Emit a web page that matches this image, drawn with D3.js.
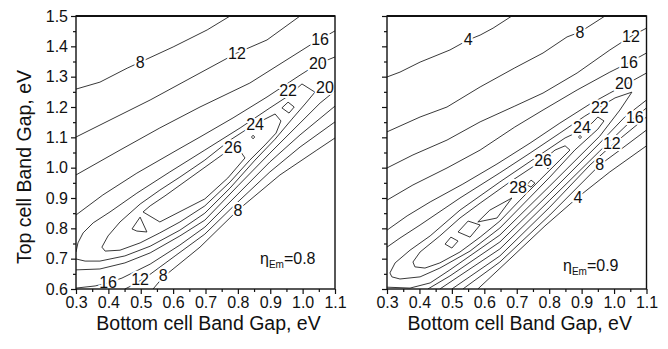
<!DOCTYPE html>
<html>
<head>
<meta charset="utf-8">
<script src="https://cdn.jsdelivr.net/npm/d3@7"></script>
<style>
  body { margin: 0; background: #fff; }
  text { font-family: "Liberation Sans", Arial, sans-serif; fill: #111; }
</style>
</head>
<body>
<svg id="chart" width="668" height="349"></svg>
<script>
// axis ticks
const xTicks = [0.3, 0.4, 0.5, 0.6, 0.7, 0.8, 0.9, 1.0, 1.1];
const xMinor = [0.35, 0.45, 0.55, 0.65, 0.75, 0.85, 0.95, 1.05];
const yTicks = [0.6, 0.7, 0.8, 0.9, 1.0, 1.1, 1.2, 1.3, 1.4, 1.5];
const yMinor = [0.65, 0.75, 0.85, 0.95, 1.05, 1.15, 1.25, 1.35, 1.45];

// left panel (eta_Em = 0.8), contour lines as [bottom gap, top gap]
const left8u = [[0.300,1.259],[0.374,1.282],[0.458,1.328],[0.600,1.398],[0.705,1.454],[0.776,1.500]];
const left12u = [[0.300,1.101],[0.405,1.157],[0.529,1.223],[0.643,1.289],[0.797,1.378],[0.890,1.421],[0.992,1.500]];
const left16u = [[0.300,0.976],[0.436,1.058],[0.559,1.131],[0.683,1.200],[0.837,1.279],[1.023,1.404],[1.100,1.451]];
const left20u = [[0.300,0.844],[0.383,0.910],[0.488,0.982],[0.612,1.058],[0.683,1.101],[0.785,1.164],[0.890,1.233],[0.992,1.305],[1.047,1.342],[1.100,1.365]];
const left22 = [[0.300,0.722],[0.306,0.752],[0.322,0.785],[0.353,0.818],[0.405,0.854],[0.488,0.916],[0.590,0.986],[0.698,1.058],[0.807,1.131],[0.899,1.197],[0.955,1.236],[0.998,1.276],[1.038,1.249],[1.010,1.213],[0.967,1.160],[0.915,1.094],[0.853,1.025],[0.776,0.933],[0.698,0.850],[0.621,0.794],[0.529,0.741],[0.451,0.709],[0.374,0.692],[0.328,0.692],[0.300,0.699]];
const left24 = [[0.380,0.738],[0.399,0.775],[0.436,0.821],[0.498,0.880],[0.559,0.926],[0.621,0.969],[0.698,1.025],[0.776,1.091],[0.828,1.127],[0.878,1.157],[0.915,1.177],[0.933,1.154],[0.918,1.114],[0.884,1.075],[0.837,1.025],[0.776,0.953],[0.698,0.874],[0.621,0.821],[0.559,0.785],[0.498,0.752],[0.436,0.728],[0.390,0.725]];
const left24b = [[0.936,1.197],[0.955,1.216],[0.974,1.200],[0.958,1.180]];
const left26 = [[0.507,0.854],[0.559,0.821],[0.643,0.867],[0.698,0.897],[0.769,0.966],[0.822,1.032],[0.807,1.055],[0.785,1.068],[0.729,1.025],[0.652,0.966],[0.575,0.907],[0.529,0.874]];
const left26b = [[0.498,0.837],[0.473,0.798],[0.488,0.791],[0.519,0.788]];
const left26c = [[0.842,1.101],[0.847,1.107],[0.852,1.101],[0.847,1.095]];
const left20l = [[0.300,0.663],[0.374,0.666],[0.451,0.686],[0.529,0.719],[0.621,0.775],[0.698,0.827],[0.800,0.940],[0.899,1.048],[0.992,1.147],[1.054,1.213],[1.100,1.253]];
const left16l = [[0.300,0.603],[0.359,0.610],[0.399,0.620],[0.442,0.636],[0.529,0.682],[0.621,0.745],[0.698,0.804],[0.800,0.913],[0.899,1.019],[0.992,1.108],[1.100,1.203]];
const left12l = [[0.451,0.600],[0.476,0.613],[0.522,0.643],[0.606,0.709],[0.698,0.781],[0.800,0.887],[0.899,0.986],[0.992,1.068],[1.100,1.151]];
const left8l = [[0.538,0.600],[0.569,0.639],[0.683,0.738],[0.800,0.860],[0.930,0.976],[1.044,1.058],[1.100,1.098]];
// contour labels: [text, x, y]
const leftLabels = [["8",0.498,1.348],["12",0.797,1.378],["16",1.054,1.421],["20",1.047,1.345],["20",1.069,1.263],
  ["22",0.955,1.253],["24",0.853,1.141],["26",0.785,1.068],["8",0.800,0.860],["16",0.399,0.620],["12",0.498,0.630],["8",0.569,0.646]];

// right panel (eta_Em = 0.9)
const right4u = [[0.300,1.299],[0.340,1.315],[0.402,1.348],[0.494,1.388],[0.550,1.421],[0.587,1.437],[0.627,1.460],[0.685,1.500]];
const right8u = [[0.300,1.118],[0.402,1.167],[0.485,1.200],[0.587,1.266],[0.694,1.329],[0.781,1.378],[0.855,1.431],[0.895,1.447],[0.972,1.500]];
const right12u = [[0.300,0.999],[0.380,1.042],[0.485,1.091],[0.587,1.151],[0.694,1.203],[0.781,1.246],[0.886,1.312],[0.987,1.388],[1.049,1.431],[1.100,1.460]];
const right16u = [[0.300,0.893],[0.380,0.943],[0.485,0.999],[0.587,1.058],[0.694,1.134],[0.781,1.190],[0.886,1.256],[0.987,1.315],[1.049,1.348],[1.100,1.378]];
const right20u = [[0.300,0.794],[0.362,0.841],[0.433,0.887],[0.534,0.946],[0.639,1.012],[0.741,1.081],[0.833,1.147],[0.926,1.210],[0.987,1.246],[1.027,1.269],[1.100,1.312]];
const right22 = [[0.300,0.738],[0.340,0.768],[0.402,0.811],[0.525,0.900],[0.648,0.983],[0.741,1.048],[0.833,1.114],[0.910,1.170],[0.956,1.200],[1.003,1.230],[1.055,1.249],[1.018,1.190],[0.956,1.104],[0.802,0.940],[0.648,0.778],[0.494,0.663],[0.433,0.620],[0.371,0.603],[0.300,0.606]];
const right24 = [[0.309,0.653],[0.325,0.686],[0.371,0.728],[0.433,0.775],[0.525,0.860],[0.648,0.953],[0.771,1.042],[0.849,1.098],[0.901,1.124],[0.932,1.147],[0.950,1.167],[0.969,1.154],[0.950,1.127],[0.879,1.058],[0.802,0.969],[0.648,0.801],[0.556,0.725],[0.463,0.669],[0.402,0.640],[0.340,0.633],[0.315,0.640]];
const right26 = [[0.380,0.689],[0.402,0.722],[0.463,0.775],[0.525,0.834],[0.587,0.883],[0.679,0.953],[0.781,1.025],[0.818,1.058],[0.849,1.072],[0.864,1.058],[0.833,1.025],[0.771,0.959],[0.710,0.893],[0.648,0.824],[0.587,0.771],[0.525,0.722],[0.463,0.686],[0.417,0.669],[0.386,0.673]];
const right26b = [[0.791,1.002],[0.796,1.008],[0.801,1.002],[0.796,0.996]];
const right26c = [[0.890,1.101],[0.895,1.106],[0.900,1.101],[0.895,1.096]];
const right28a = [[0.479,0.748],[0.497,0.771],[0.519,0.758],[0.500,0.735]];
const right28b = [[0.519,0.788],[0.550,0.824],[0.587,0.811],[0.556,0.771]];
const right28c = [[0.580,0.821],[0.617,0.860],[0.685,0.900],[0.639,0.834]];
const right28d = [[0.731,0.943],[0.744,0.959],[0.756,0.949],[0.744,0.936]];
const right20l = [[0.426,0.600],[0.494,0.643],[0.648,0.755],[0.802,0.916],[0.956,1.081],[1.033,1.167],[1.100,1.223]];
const right16l = [[0.463,0.600],[0.648,0.732],[0.802,0.893],[0.956,1.055],[1.058,1.160],[1.100,1.197]];
const right12l = [[0.500,0.600],[0.648,0.709],[0.802,0.870],[0.926,1.009],[0.987,1.068],[1.100,1.167]];
const right8l = [[0.534,0.600],[0.648,0.689],[0.802,0.844],[0.956,1.009],[1.018,1.058],[1.100,1.124]];
const right4l = [[0.580,0.600],[0.679,0.699],[0.787,0.808],[0.889,0.903],[0.987,0.986],[1.100,1.072]];
const rightLabels = [["4",0.550,1.421],["8",0.895,1.447],["12",1.052,1.434],["16",1.046,1.348],["20",1.030,1.279],
  ["22",0.956,1.200],["24",0.901,1.134],["26",0.781,1.025],["28",0.704,0.936],["16",1.064,1.167],["12",0.993,1.081],["8",0.956,1.009],["4",0.889,0.903]];

const svg = d3.select("#chart");
const plotTop = 16, plotBottom = 289;
const y = d3.scaleLinear().domain([0.6, 1.5]).range([plotBottom, plotTop]);

function panel(id, x0, x1, openLines, closedLines, labels, eta, etaPos, showY) {
  const x = d3.scaleLinear().domain([0.3, 1.1]).range([x0, x1]);
  const g = svg.append("g").attr("id", id);

  g.append("clipPath").attr("id", id + "-clip")
    .append("rect").attr("x", x0).attr("y", plotTop).attr("width", x1 - x0).attr("height", plotBottom - plotTop);

  const line = d3.line().x(d => x(d[0])).y(d => y(d[1]));
  const loop = d3.line().x(d => x(d[0])).y(d => y(d[1])).curve(d3.curveLinearClosed);

  const plot = g.append("g").attr("clip-path", `url(#${id}-clip)`);
  plot.selectAll("path.open").data(openLines).join("path")
    .attr("class", "open").attr("d", line)
    .attr("fill", "none").attr("stroke", "#222").attr("stroke-width", 0.9);
  plot.selectAll("path.closed").data(closedLines).join("path")
    .attr("class", "closed").attr("d", loop)
    .attr("fill", "none").attr("stroke", "#222").attr("stroke-width", 0.9);

  plot.selectAll("text.lab").data(labels).join("text")
    .attr("class", "lab")
    .attr("x", d => x(d[1])).attr("y", d => y(d[2]))
    .attr("text-anchor", "middle").attr("dominant-baseline", "central")
    .attr("font-size", 16)
    .attr("stroke", "#fff").attr("stroke-width", 4).attr("paint-order", "stroke")
    .text(d => d[0]);

  // axes, ticks pointing outwards with one minor tick between majors
  g.append("g").attr("transform", `translate(0,${plotBottom})`)
    .call(d3.axisBottom(x).tickValues(xTicks).tickSize(5).tickSizeOuter(0).tickFormat(d3.format(".1f")));
  g.append("g").attr("transform", `translate(0,${plotBottom})`)
    .call(d3.axisBottom(x).tickValues(xMinor).tickSize(3).tickSizeOuter(0).tickFormat(""));
  g.append("g").attr("transform", `translate(${x0},0)`)
    .call(d3.axisLeft(y).tickValues(yTicks).tickSize(5).tickSizeOuter(0)
      .tickFormat(showY ? d3.format(".1f") : ""));
  g.append("g").attr("transform", `translate(${x0},0)`)
    .call(d3.axisLeft(y).tickValues(yMinor).tickSize(3).tickSizeOuter(0).tickFormat(""));
  g.selectAll(".domain").remove();
  g.selectAll(".tick line").attr("stroke", "#111").attr("stroke-width", 1.2);
  g.selectAll(".tick text").attr("font-size", 16).attr("fill", "#111")
    .attr("font-family", "Liberation Sans, Arial, sans-serif");

  // frame, the top edge drawn heavier
  g.append("rect").attr("x", x0).attr("y", plotTop).attr("width", x1 - x0).attr("height", plotBottom - plotTop)
    .attr("fill", "none").attr("stroke", "#111").attr("stroke-width", 1.4);
  g.append("line").attr("x1", x0).attr("x2", x1).attr("y1", plotTop).attr("y2", plotTop)
    .attr("stroke", "#111").attr("stroke-width", 2.2);

  g.append("text").attr("x", (x0 + x1) / 2 + 3).attr("y", 330)
    .attr("text-anchor", "middle").attr("font-size", 19.5)
    .text("Bottom cell Band Gap, eV");

  const t = g.append("text").attr("x", etaPos[0]).attr("y", etaPos[1]).attr("font-size", 16);
  t.append("tspan").text("\u03b7");
  t.append("tspan").attr("font-size", 10).attr("dy", 4).text("Em");
  t.append("tspan").attr("dy", -4).text("=" + eta);
}

panel("left", 76, 335,
  [left8u, left12u, left16u, left20u, left22, left20l, left16l, left12l, left8l],
  [left24, left24b, left26, left26b, left26c],
  leftLabels, "0.8", [260, 264], true);

panel("right", 387, 646.5,
  [right4u, right8u, right12u, right16u, right20u, right22, right20l, right16l, right12l, right8l, right4l],
  [right24, right26, right26b, right26c, right28a, right28b, right28c, right28d],
  rightLabels, "0.9", [563, 271], false);

svg.append("text")
  .attr("transform", "translate(31,167) rotate(-90)")
  .attr("text-anchor", "middle").attr("font-size", 19.5)
  .text("Top cell Band Gap, eV");
</script>
</body>
</html>
